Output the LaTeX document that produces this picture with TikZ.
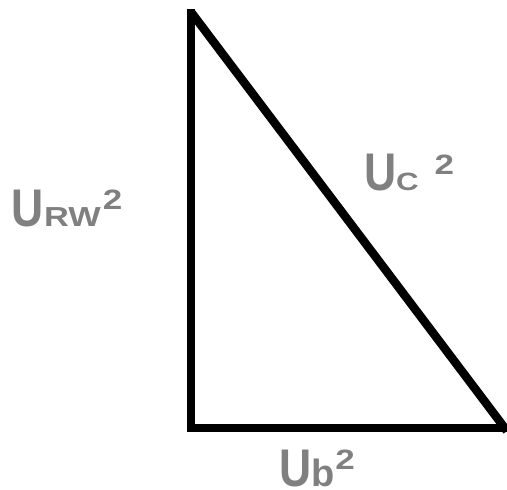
\documentclass[tikz,border=0pt]{standalone}
\usepackage{fontspec}
\setmainfont{Liberation Sans}
\usepackage{graphicx}
\definecolor{lblgray}{RGB}{128,128,128}
\newcommand{\bigU}{{\fontsize{53}{53}\selectfont\scalebox{0.84}[1]{U}}}
\newcommand{\smallpart}[1]{{\fontsize{27.5}{27.5}\selectfont\scalebox{1.25}[1]{#1}}}
\newcommand{\supTwo}[1]{\raisebox{#1}{\fontsize{28}{28}\selectfont\scalebox{1.25}[1]{2}}}
\begin{document}
\begin{tikzpicture}[x=1pt,y=-1pt,
  side/.style={line width=8.5pt,line cap=butt,line join=miter},
  lab/.style={inner sep=0pt,outer sep=0pt,text=lblgray,font=\bfseries,anchor=base west}]
\useasboundingbox (0,0) rectangle (507,490);
\coordinate (T) at (191,9);
\coordinate (BL) at (191,427);
\coordinate (H0) at (187,428);
\coordinate (H1) at (507,428);
\coordinate (R) at (507,431);
\coordinate (Ttop) at (191,12);
\draw[side] (T) -- (BL);
\draw[side] (H0) -- (H1);
\draw[side] (Ttop) -- (R);
\node[lab] (lrw) at (12,226) {\bigU\smallpart{RW}\hspace{2pt}\supTwo{17pt}};
\node[lab] (lc) at (364,190) {\bigU{\fontsize{25}{25}\selectfont\scalebox{1.25}[1]{C}}\hspace{16pt}\supTwo{16pt}};
\node[lab] (lb) at (279,486) {\raisebox{0pt}[\height][0pt]{\bigU{\fontsize{38}{38}\selectfont b}\hspace{1pt}\supTwo{17pt}}};
\end{tikzpicture}
\end{document}
